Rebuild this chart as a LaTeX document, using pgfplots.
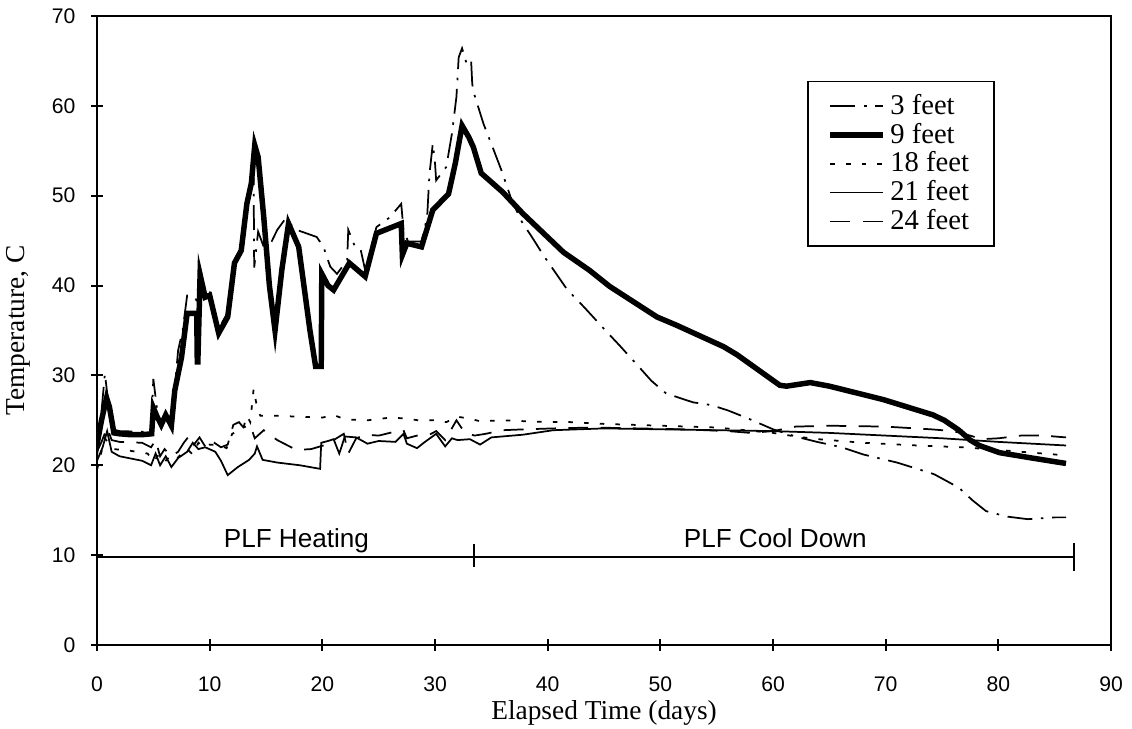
\documentclass[border=0pt]{standalone}
\usepackage{fontspec}
\setmainfont{Liberation Serif}
\newfontfamily\arial{Liberation Sans}
\usepackage{pgfplots}
\pgfplotsset{compat=1.18}
\begin{document}
\begin{tikzpicture}
\useasboundingbox (-39pt,-33.4pt) rectangle (416.1pt,259.3pt);
\begin{axis}[
  scale only axis, width=407.7pt, height=252.9pt,
  xmin=0, xmax=90, ymin=0, ymax=70,
  xtick={0,10,...,90}, ytick={0,10,...,70},
  xtick pos=left, ytick pos=left,
  tick align=center, major tick length=4.8pt,
  axis line style={line width=0.8pt},
  every tick/.style={line width=0.8pt, black},
  /pgf/number format/assume math mode=true,
  tick label style={font=\arial\fontsize{8.5}{10}\selectfont},
  xticklabel style={yshift=-7pt},
  yticklabel style={xshift=-2.8pt},
  xlabel={Elapsed Time (days)}, ylabel={Temperature, C},
  label style={font=\fontsize{11}{13}\selectfont},
  xlabel style={at={(axis description cs:0.5,-0.108)}, anchor=center},
  ylabel style={at={(axis description cs:-0.078,0.5)}, anchor=center},
  legend style={at={(0.7002,0.8967)}, anchor=north west, draw=black, line width=0.6pt,
    font=\fontsize{11.5}{12}\selectfont, inner xsep=8pt, inner ysep=3pt, row sep=-2pt,
    cells={anchor=west}},
  legend image code/.code={\draw[#1] (0pt,0pt) -- (21pt,0pt);},
]
% 3 feet
\addplot[black, line width=0.7pt, dash pattern=on 10pt off 3.5pt on 1pt off 3.5pt] coordinates {
(0,21) (0.4,26) (0.7,30.2) (1.0,27) (1.4,24) (2,23.8) (4.8,23.7) (5.0,29.6) (5.4,25.5) (5.7,24.8) (6.1,25.8) (6.6,24.6) (7.0,30) (7.2,32.8) (7.6,35) (8.0,38.9) (8.3,38.9) (8.8,38.4) (9.2,41.7) (9.6,39.5) (10,39.3) (10.8,35.2) (11.6,37) (12.2,42.8) (12.8,44.5) (13.1,47.8) (13.7,52) (13.9,52) (13.95,42) (14.3,46) (14.8,44.3) (15.0,43.6) (16.0,46.2) (16.7,47.4) (17.7,46.2) (19.5,45.4) (20.1,44.3) (20.7,42.1) (21.3,41.3) (22.2,42.8) (22.3,46.2) (22.9,44.3) (23.4,44) (23.8,41.7) (24.8,46.5) (26.0,47.6) (27.0,49.1) (27.2,46.2) (27.6,44.9) (28.8,44.9) (29.3,47.6) (29.5,52.3) (29.8,55.8) (30.0,53.6) (30.1,51.7) (31.0,53.2) (31.5,56.9) (31.9,61) (32.1,65.4) (32.4,66.4) (32.8,64.7) (33.2,65.1) (33.3,62.5) (33.4,61.6) (34.3,58.0) (35.2,55.1) (35.9,52.8) (36.8,49.5) (37.7,47.1) (38.7,45.2) (39.6,43.4) (41.7,39.6) (43.3,37.5) (45.2,34.9) (46.4,33.3) (48.2,30.8) (49.2,29.4) (50.5,28.0) (52.9,27.0) (54.5,26.7) (56,26.1) (57.8,25.2) (60,24) (62,23.2) (63.9,22.6) (66.1,22.0) (68,21.2) (71,20.3) (72.8,19.6) (74.3,19.0) (76.5,17.5) (77.7,16.1) (78.9,14.9) (80.7,14.3) (82.6,14.0) (85,14.2) (86,14.2)};
\addlegendentry{3 feet}
% 9 feet
\addplot[black, line width=2.2pt] coordinates {
(0,22.3) (0.4,25) (0.85,27.5) (1.1,26.5) (1.5,23.6) (2,23.5) (3,23.4) (4,23.4) (4.85,23.5) (5.0,26.4) (5.3,25.5) (5.7,24.5) (6.1,25.6) (6.6,24.4) (6.9,28.3) (7.5,32) (8.0,36.9) (8.85,36.9) (8.9,31.5) (8.95,31.5) (9.15,41.2) (9.6,38.7) (10,38.9) (10.8,34.7) (11.6,36.5) (12.2,42.5) (12.8,43.9) (13.3,49.1) (13.7,51.4) (14.0,55.6) (14.3,54.3) (14.8,47.6) (15.3,40) (15.8,35) (16.4,41.7) (17.0,46.9) (17.9,44.3) (18.9,35) (19.4,31) (19.9,31) (19.95,41.3) (20.5,40.0) (21.0,39.5) (22.4,42.5) (23.8,41) (24.8,45.8) (27.0,46.9) (27.1,43.4) (27.5,44.7) (28.8,44.3) (29.8,48.4) (31.2,50.2) (31.8,53.6) (32.4,57.8) (33.0,56.5) (33.4,55.4) (34.1,52.5) (36.0,50.4) (37.8,48.0) (41.4,43.7) (43.7,41.7) (45.5,39.9) (49.7,36.5) (51.4,35.6) (55.6,33.2) (56.8,32.3) (60.6,28.9) (61.2,28.8) (63.3,29.2) (65,28.8) (69.8,27.3) (74.2,25.6) (75.2,25.0) (76.5,23.9) (77.5,22.8) (78.3,22.2) (80.1,21.4) (83,20.8) (86,20.2)};
\addlegendentry{9 feet}
% 18 feet
\addplot[black, line width=0.7pt, dash pattern=on 1.8pt off 4.5pt] coordinates {
(0,19.5) (0.3,21) (0.7,23) (1.0,22.5) (1.5,21.8) (3,21.6) (4.5,21.3) (5,20.4) (5.5,21.2) (6,20.4) (6.5,21.0) (7,20.6) (7.5,21.3) (8,21.8) (8.5,21.2) (9,22.5) (9.5,22) (10,22.3) (11,22.2) (11.5,21.9) (12,23.5) (12.5,23.8) (13,24.2) (13.3,25.5) (13.6,24.8) (13.9,28.5) (14.2,26.5) (14.5,25.5) (16,25.5) (18,25.4) (20,25.3) (21,25.6) (22,25.1) (24,25.0) (26,25.3) (27.5,25.2) (28.5,25.0) (30,25.0) (31,24.8) (32,25.4) (33,25.2) (34,24.9) (36,25.0) (38,24.9) (40,24.8) (42,24.8) (45,24.6) (50,24.4) (55,24.2) (60,23.6) (62,23.2) (64,22.9) (68,22.5) (72.8,22.2) (76.8,22.0) (80,21.7) (83,21.4) (86,21.1)};
\addlegendentry{18 feet}
% 21 feet
\addplot[black, line width=0.7pt] coordinates {
(0,20.5) (0.5,22) (0.9,23.8) (1.3,21.5) (2,21) (4,20.5) (4.8,20.0) (5.2,21.3) (5.6,20.0) (6.1,21.0) (6.6,19.8) (7.2,20.8) (8,21.5) (8.5,22.5) (9,21.8) (9.6,22) (10.5,21.5) (11,20.5) (11.6,18.9) (12.5,19.8) (13.5,20.6) (14.0,21.3) (14.2,22.1) (14.7,20.6) (16,20.3) (18,20.0) (19.8,19.6) (19.9,22.5) (20.5,22.7) (21,22.9) (21.5,21.3) (22,23.2) (23,23.1) (24,22.4) (25,22.7) (26.5,22.6) (27.2,23.5) (27.5,22.4) (28.4,21.9) (29,22.5) (30.1,23.5) (30.9,22.1) (31.5,23) (32,22.8) (33.1,22.9) (34,22.3) (35,23.1) (37.8,23.4) (40.5,23.9) (45,24.1) (50,24.0) (55,23.9) (60,23.8) (65,23.6) (70,23.3) (75,23.0) (77.5,22.8) (80,22.6) (83,22.4) (86,22.2)};
\addlegendentry{21 feet}
% 24 feet
\addplot[black, line width=0.7pt, dash pattern=on 8pt off 5pt] coordinates {
(0,21.5) (0.4,22.6) (0.9,24.2) (1.3,22.8) (2,22.6) (4,22.5) (4.8,22.0) (5.2,22.8) (5.6,21.0) (6,21.8) (6.6,21) (7.2,21.5) (7.7,22.5) (8.2,23.3) (8.6,22.3) (9.1,23.1) (9.7,21.9) (10.3,22.6) (11,22) (11.6,22.3) (12.1,24.5) (12.6,24.8) (13.0,24.2) (13.6,24.5) (14.0,23.0) (14.8,23.9) (16,22.8) (17.7,21.7) (19.0,21.8) (20.1,22.2) (21,22.8) (21.9,23.5) (22.3,21.3) (23.0,23.0) (23.9,23.4) (25,23.3) (26.3,23.7) (27.2,23.9) (27.5,23) (28.4,23.3) (29.5,23.4) (30.1,23.8) (30.9,22.8) (31.9,25) (32.6,23.7) (33.5,23.3) (34.5,23.5) (36,23.9) (38,24.0) (40.5,24.1) (44,24.2) (48,24.1) (52,24.0) (56,23.8) (58,23.6) (60,23.8) (62,24.3) (65,24.4) (70,24.3) (74,24.0) (76,23.8) (77.5,23.3) (78.5,22.9) (80,23.0) (82,23.3) (84,23.3) (86,23.1)};
\addlegendentry{24 feet}
% PLF bars
\addplot[black, line width=0.8pt, forget plot] coordinates {(0,9.8) (86.7,9.8)};
\addplot[black, line width=0.8pt, forget plot] coordinates {(33.5,8.7) (33.5,11.2)};
\addplot[black, line width=0.8pt, forget plot] coordinates {(86.7,8.2) (86.7,11.4)};
\node[font=\arial\fontsize{10.5}{12}\selectfont, anchor=base] at (axis cs:17.7,10.8) {PLF Heating};
\node[font=\arial\fontsize{10.5}{12}\selectfont, anchor=base] at (axis cs:60.2,10.8) {PLF Cool Down};
\end{axis}
\end{tikzpicture}
\end{document}
